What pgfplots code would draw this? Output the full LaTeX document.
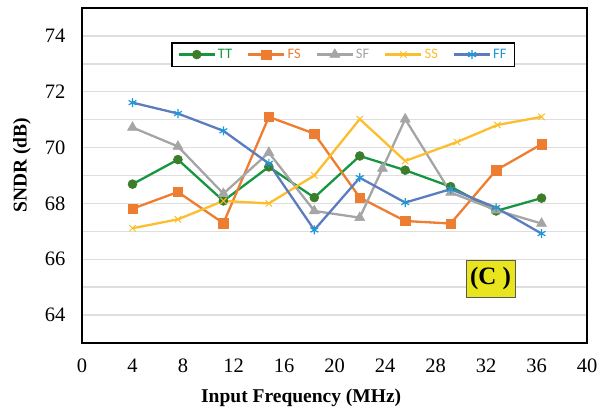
\documentclass[border=0pt]{standalone}
\usepackage{pgfplots}
\pgfplotsset{compat=1.18}
\usepackage{fontspec}
\setmainfont{Liberation Serif}
\newfontfamily\legfont{Carlito}
\definecolor{ttline}{RGB}{22,150,64}
\definecolor{ttmark}{RGB}{60,125,42}
\definecolor{fscol}{RGB}{237,125,49}
\definecolor{sfcol}{RGB}{165,165,165}
\definecolor{sscol}{RGB}{252,190,45}
\definecolor{ffline}{RGB}{91,125,192}
\definecolor{ffmark}{RGB}{30,150,215}
\definecolor{gridgray}{RGB}{222,222,222}
\definecolor{cyellow}{RGB}{232,228,30}
\begin{document}
\begin{tikzpicture}
\path[use as bounding box] (-82pt,-65pt) rectangle (522pt,343pt);
\begin{axis}[
  at={(0pt,0pt)}, anchor=south west,
  scale only axis, width=505pt, height=335pt,
  xmin=0, xmax=40, ymin=63, ymax=75,
  xtick={0,4,...,40}, ytick={64,66,...,74}, minor ytick={63,65,...,75},
  ymajorgrids, yminorgrids,
  major grid style={draw=gridgray, line width=1.4pt},
  minor grid style={draw=gridgray, line width=1.4pt},
  major tick length=0pt, minor tick length=0pt,
  axis line style={line width=1.8pt, black},
  tick label style={font=\fontsize{20.5}{24}\selectfont},
  /pgf/number format/assume math mode=true,
  xticklabel style={yshift=-12pt},
  yticklabel style={xshift=-13pt},
  xlabel={Input Frequency (MHz)}, ylabel={SNDR (dB)},
  label style={font=\bfseries\fontsize{19.5}{23}\selectfont},
  xlabel style={at={(axis description cs:0.434,-0.163)}, anchor=center},
  ylabel style={at={(axis description cs:-0.119,0.531)}, anchor=center},
  legend style={at={(axis description cs:0.517,0.861)}, anchor=center,
    draw=black, line width=1.8pt, fill=white, inner xsep=6pt, inner ysep=4.5pt,
    font=\legfont\fontsize{14.5}{16}\selectfont,
    /tikz/every even column/.append style={column sep=13pt}},
  legend columns=5,
  legend image code/.code={\draw[mark repeat=2,mark phase=2] plot coordinates {(0pt,0pt) (18pt,0pt) (36pt,0pt)};},
]
\addplot[color=ttline, line width=2.3pt, mark=*, mark size=4.5pt, mark options={fill=ttmark, draw=ttmark, line width=0.5pt}]
 coordinates {(4,68.69) (7.6,69.57) (11.2,68.09) (14.8,69.31) (18.4,68.21) (22,69.70) (25.6,69.19) (29.2,68.60) (32.8,67.73) (36.4,68.19)};
\addlegendentry{\textcolor{ttline}{TT}}
\addplot[color=fscol, line width=2.3pt, mark=square*, mark size=4.7pt, mark options={fill=fscol, line width=0.5pt}]
 coordinates {(4,67.81) (7.6,68.41) (11.2,67.29) (14.8,71.10) (18.4,70.50) (22,68.21) (25.6,67.37) (29.2,67.28) (32.8,69.19) (36.4,70.12)};
\addlegendentry{\textcolor{fscol}{FS}}
\addplot[color=sfcol, line width=2.3pt, mark=triangle*, mark size=5.8pt, mark options={fill=sfcol, line width=0.5pt}]
 coordinates {(4,70.72) (7.6,70.04) (11.2,68.35) (14.8,69.82) (18.4,67.73) (22,67.49) (23.8,69.25) (25.6,71.02) (29.2,68.39) (32.8,67.76) (36.4,67.28)};
\addlegendentry{\textcolor{sfcol}{SF}}
\addplot[color=sscol, line width=2.3pt, mark=x, mark size=4.5pt, mark options={line width=1pt}]
 coordinates {(4,67.11) (7.6,67.43) (11.2,68.09) (14.8,68.00) (18.4,69.00) (22,71.02) (25.6,69.52) (29.7,70.20) (32.9,70.81) (36.4,71.10)};
\addlegendentry{\textcolor{sscol}{SS}}
\addplot[color=ffline, line width=2.3pt, mark=asterisk, mark size=4.5pt, mark options={draw=ffmark, line width=1.2pt}]
 coordinates {(4,71.61) (7.6,71.22) (11.2,70.60) (14.8,69.43) (18.4,67.05) (22,68.92) (25.6,68.03) (29.2,68.51) (32.8,67.85) (36.4,66.92)};
\addlegendentry{\textcolor{ffmark}{FF}}
\node[fill=cyellow, draw=gray!70!black, line width=0.8pt, minimum width=49pt, minimum height=37pt, inner sep=0pt, font=\bfseries\fontsize{25}{28}\selectfont] at (axis cs:32.36,65.3) {(C )};
\end{axis}
\end{tikzpicture}
\end{document}
